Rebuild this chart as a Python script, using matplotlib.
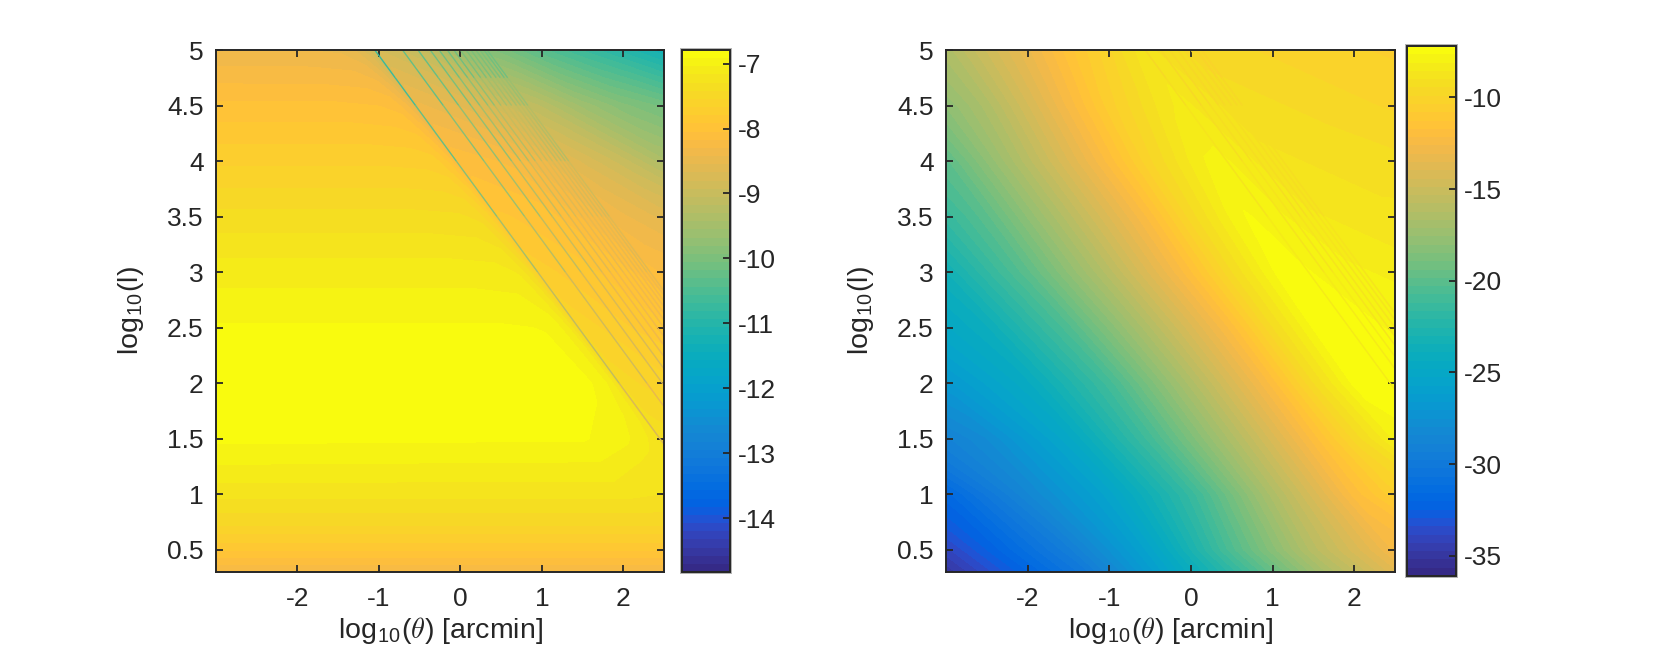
import numpy as np
import matplotlib
matplotlib.use('Agg')
import matplotlib.pyplot as plt
from matplotlib.cm import ScalarMappable
from matplotlib.collections import LineCollection
from matplotlib.colors import ListedColormap, Normalize
from matplotlib.patches import Rectangle

plt.rcParams['font.family'] = ['Liberation Sans', 'DejaVu Sans']
plt.rcParams['mathtext.fontset'] = 'cm'
plt.rcParams['mathtext.default'] = 'it'
plt.rcParams['axes.unicode_minus'] = False

W, H = 1661, 659
DARK = '#262626'

# parula, 64 steps
parula = [
    [0.2081, 0.1663, 0.5292], [0.2116, 0.1898, 0.5777], [0.2123, 0.2138, 0.6270], [0.2081, 0.2386, 0.6771],
    [0.1959, 0.2645, 0.7279], [0.1707, 0.2919, 0.7792], [0.1253, 0.3242, 0.8303], [0.0591, 0.3598, 0.8683],
    [0.0117, 0.3875, 0.8820], [0.0060, 0.4086, 0.8828], [0.0165, 0.4266, 0.8786], [0.0329, 0.4430, 0.8720],
    [0.0498, 0.4586, 0.8641], [0.0629, 0.4737, 0.8554], [0.0723, 0.4887, 0.8467], [0.0779, 0.5040, 0.8384],
    [0.0793, 0.5200, 0.8312], [0.0749, 0.5375, 0.8263], [0.0641, 0.5570, 0.8240], [0.0488, 0.5772, 0.8228],
    [0.0343, 0.5966, 0.8199], [0.0265, 0.6137, 0.8135], [0.0239, 0.6287, 0.8038], [0.0231, 0.6418, 0.7913],
    [0.0228, 0.6535, 0.7768], [0.0267, 0.6642, 0.7607], [0.0384, 0.6743, 0.7436], [0.0590, 0.6838, 0.7254],
    [0.0843, 0.6928, 0.7062], [0.1133, 0.7015, 0.6859], [0.1453, 0.7098, 0.6646], [0.1801, 0.7177, 0.6424],
    [0.2178, 0.7250, 0.6193], [0.2586, 0.7317, 0.5954], [0.3022, 0.7376, 0.5712], [0.3482, 0.7424, 0.5473],
    [0.3953, 0.7459, 0.5244], [0.4420, 0.7481, 0.5033], [0.4871, 0.7491, 0.4840], [0.5300, 0.7491, 0.4661],
    [0.5709, 0.7485, 0.4494], [0.6099, 0.7473, 0.4337], [0.6473, 0.7456, 0.4188], [0.6834, 0.7435, 0.4044],
    [0.7184, 0.7411, 0.3905], [0.7525, 0.7384, 0.3768], [0.7858, 0.7356, 0.3633], [0.8185, 0.7327, 0.3498],
    [0.8507, 0.7299, 0.3360], [0.8824, 0.7274, 0.3217], [0.9139, 0.7258, 0.3063], [0.9450, 0.7261, 0.2886],
    [0.9739, 0.7314, 0.2666], [0.9938, 0.7455, 0.2403], [0.9990, 0.7653, 0.2164], [0.9955, 0.7861, 0.1967],
    [0.9880, 0.8066, 0.1794], [0.9789, 0.8271, 0.1633], [0.9697, 0.8481, 0.1475], [0.9626, 0.8705, 0.1309],
    [0.9589, 0.8949, 0.1132], [0.9598, 0.9218, 0.0948], [0.9661, 0.9514, 0.0755], [0.9763, 0.9831, 0.0538],
]

x_ticks = [-2, -1, 0, 1, 2]
y_ticks = [0.5, 1, 1.5, 2, 2.5, 3, 3.5, 4, 4.5, 5]
y_labels = ['0.5', '1', '1.5', '2', '2.5', '3', '3.5', '4', '4.5', '5']

# maps are read along log10(l) rows and along columns of log10(l) + log10(theta)
left_rows = [0.3, 0.5, 0.75, 1, 1.25, 1.5, 2, 2.5, 3, 3.5, 4, 4.5, 5]
left_cols = [-3, 3, 3.5, 3.7, 3.85, 3.93, 4.0, 4.6, 5, 5.5, 6, 6.5, 7, 7.5]
left_map = [
    [-8.3, -8.3, -8.3, -8.3, -8.3, -8.3, -8.3, -8.3, -8.3, -8.3, -8.3, -8.3, -8.3, -8.3],
    [-7.9, -7.9, -7.9, -7.9, -7.9, -7.9, -7.9, -7.9, -7.9, -7.9, -7.9, -7.9, -7.9, -7.9],
    [-7.5, -7.5, -7.5, -7.5, -7.5, -7.5, -7.5, -7.5, -7.5, -7.5, -7.5, -7.5, -7.5, -7.5],
    [-7.25, -7.25, -7.3, -7.35, -7.4, -7.4, -7.4, -7.4, -7.4, -7.4, -7.4, -7.4, -7.4, -7.4],
    [-7.05, -7.07, -7.2, -7.25, -7.35, -7.4, -7.4, -7.4, -7.4, -7.4, -7.4, -7.4, -7.4, -7.4],
    [-6.88, -6.9, -7.0, -7.1, -7.2, -7.3, -7.35, -7.5, -7.5, -7.5, -7.5, -7.5, -7.5, -7.5],
    [-6.82, -6.82, -6.87, -6.95, -7.1, -7.35, -7.5, -7.65, -7.7, -7.7, -7.7, -7.7, -7.7, -7.7],
    [-6.9, -6.9, -6.92, -7.0, -7.2, -7.5, -7.6, -7.8, -7.9, -8.0, -8.0, -8.0, -8.0, -8.0],
    [-7.1, -7.1, -7.12, -7.18, -7.4, -7.7, -7.75, -7.9, -8.0, -8.2, -8.3, -8.3, -8.3, -8.3],
    [-7.38, -7.38, -7.4, -7.45, -7.65, -7.9, -7.9, -8.0, -8.2, -8.4, -8.6, -8.8, -8.8, -8.8],
    [-7.7, -7.7, -7.72, -7.76, -7.95, -8.15, -8.1, -8.2, -8.4, -8.7, -9.0, -9.4, -9.6, -9.6],
    [-8.0, -8.02, -8.05, -8.1, -8.3, -8.5, -8.4, -8.6, -8.9, -9.2, -9.6, -9.9, -10.1, -10.4],
    [-8.4, -8.42, -8.45, -8.55, -8.75, -9.0, -8.8, -9.1, -9.7, -10.0, -10.4, -10.7, -11.0, -11.3],
]

right_rows = [0.3, 0.5, 1, 1.5, 2, 2.5, 3, 3.5, 4, 4.5, 5]
right_cols = [-3, -2, -1, 0, 1, 2, 3, 3.5, 4, 4.2, 4.4, 5, 6, 7, 7.5]
right_map = [
    [-36.0, -33.0, -30.0, -25.5, -21.0, -16.5, -13.0, -12.0, -12.0, -12.0, -12.0, -12.0, -12.0, -12.0, -12.0],
    [-35.5, -32.5, -29.5, -25.5, -20.5, -16.0, -12.5, -12.0, -12.0, -12.0, -12.0, -12.0, -12.0, -12.0, -12.0],
    [-34.0, -31.8, -28.5, -25.5, -21.5, -16.5, -12.0, -10.5, -9.5, -9.5, -9.5, -9.5, -9.5, -9.5, -9.5],
    [-31.0, -30.0, -28.0, -25.0, -21.0, -16.5, -12.0, -9.8, -8.0, -7.8, -7.8, -7.8, -7.8, -7.8, -7.8],
    [-29.5, -28.5, -26.8, -24.5, -21.0, -16.5, -12.0, -9.5, -7.5, -7.4, -7.5, -7.5, -7.5, -7.5, -7.5],
    [-28.5, -27.5, -25.8, -24.0, -20.5, -16.3, -12.0, -9.5, -7.6, -7.3, -7.5, -7.7, -8.0, -8.0, -8.0],
    [-28.0, -27.0, -25.5, -23.5, -20.0, -16.0, -11.8, -9.5, -7.7, -7.3, -7.6, -8.0, -8.5, -8.5, -8.5],
    [-27.0, -26.0, -24.5, -23.0, -20.0, -16.0, -12.0, -9.7, -8.0, -7.6, -7.8, -8.5, -8.9, -8.9, -8.9],
    [-26.0, -25.0, -23.5, -22.0, -20.0, -16.0, -12.0, -10.0, -8.5, -8.05, -8.0, -8.9, -9.2, -9.5, -9.5],
    [-25.0, -24.0, -22.5, -21.0, -19.5, -16.5, -12.5, -10.6, -9.2, -8.7, -8.4, -9.2, -9.6, -10.0, -10.0],
    [-24.0, -23.0, -21.5, -20.0, -18.5, -16.5, -13.2, -11.5, -10.0, -9.3, -8.8, -9.6, -10.0, -10.3, -10.5],
]

# thin diagonal stripes: position in log10(l) + log10(theta), colour value on each row interval
stripe_rows = [1, 2, 3, 3.5, 4, 4.5, 4.75, 5]
left_stripe_pos = [3.95, 4.29, 4.48, 4.63, 4.74, 4.84, 4.92, 5.0, 5.07, 5.13, 5.19, 5.24, 5.29, 5.33]
left_stripe_val = [
    [-8.7, -9.1, -9.5, -9.9, -10.3, -10.6, -10.8],
    [-8.5, -8.9, -9.2, -9.6, -9.9, -10.2, -10.3],
    [-8.4, -8.8, -9.1, -9.5, -9.8, -10.1, -10.2],
    [-8.4, -8.7, -9.0, -9.3, -9.7, -10.0, -10.1],
    [-8.3, -8.5, -8.7, -9.0, -9.5, -9.9, -10.1],
    [-8.3, -8.4, -8.6, -8.9, -9.4, -9.8, -10.1],
    [-8.3, -8.4, -8.5, -8.8, -9.2, -9.7, -10.1],
    [-8.3, -8.35, -8.45, -8.65, -9.0, -9.45, -9.95],
    [-8.3, -8.35, -8.45, -8.65, -9.0, -9.45, -9.95],
    [-8.3, -8.35, -8.45, -8.7, -9.05, -9.5, -10.0],
    [-8.3, -8.35, -8.5, -8.7, -9.1, -9.5, -10.0],
    [-8.3, -8.4, -8.5, -8.75, -9.15, -9.55, -10.05],
    [-8.3, -8.4, -8.55, -8.8, -9.2, -9.6, -10.1],
    [-8.3, -8.45, -8.6, -8.85, -9.25, -9.65, -10.15],
]
right_stripe_pos = [4.44, 4.63, 4.74, 4.84, 4.92, 5.0, 5.07, 5.13]
right_stripe_val = [
    [-8.2, -8.3, -8.5, -8.7, -9.0, -9.3, -9.6],
    [-8.3, -8.5, -8.7, -9.0, -9.2, -9.5, -9.8],
    [-8.3, -8.5, -8.7, -9.0, -9.2, -9.5, -9.8],
    [-8.4, -8.6, -8.8, -9.1, -9.3, -9.6, -9.9],
    [-8.4, -8.6, -8.8, -9.1, -9.3, -9.6, -9.9],
    [-8.4, -8.6, -8.8, -9.1, -9.3, -9.6, -9.9],
    [-8.4, -8.6, -8.8, -9.1, -9.4, -9.7, -10.0],
    [-8.4, -8.6, -8.8, -9.1, -9.4, -9.7, -10.0],
]

left_clim = [-14.83, -6.79]
right_clim = [-36.1, -7.2]
left_cbar_ticks = [-14, -13, -12, -11, -10, -9, -8, -7]
right_cbar_ticks = [-35, -30, -25, -20, -15, -10]

cmap = ListedColormap(parula)


def px_axes(fig, x0, y0, x1, y1):
    # pixel box measured from the top left of the figure
    return fig.add_axes([x0 / W, 1 - y1 / H, (x1 - x0) / W, (y1 - y0) / H])


def draw_map(ax, rows, cols, values, stripe_pos, stripe_val, clim):
    norm = Normalize(clim[0], clim[1])
    uu, ll = np.meshgrid(cols, rows)
    levels = np.linspace(clim[0], clim[1], 65)
    ax.contourf(uu - ll, ll, np.array(values), levels=levels, cmap=cmap, norm=norm, extend='both')

    segs = []
    vals = []
    for pos, row_vals in zip(stripe_pos, stripe_val):
        for i in range(len(stripe_rows) - 1):
            a, b = stripe_rows[i], stripe_rows[i + 1]
            segs.append([(pos - a, a), (pos - b, b)])
            vals.append(row_vals[i])
    lc = LineCollection(segs, cmap=cmap, norm=norm, linewidths=1.0)
    lc.set_array(np.array(vals))
    ax.add_collection(lc)

    ax.set_xlim(-3, 2.5)
    ax.set_ylim(0.3, 5)
    ax.set_xticks(x_ticks)
    ax.set_xticklabels([str(t) for t in x_ticks])
    ax.set_yticks(y_ticks)
    ax.set_yticklabels(y_labels)
    ax.tick_params(axis='x', pad=11)
    ax.tick_params(axis='y', pad=9)
    ax.tick_params(direction='in', top=True, right=True, length=5, width=1.3,
                   labelsize=19, color=DARK, labelcolor=DARK)
    ax.set_xlabel(r'log$_{\mathregular{10}}$($\theta$) [arcmin]', fontsize=20.5, color=DARK, labelpad=3)
    ax.set_ylabel(r'log$_{\mathregular{10}}$(l)', fontsize=20.5, color=DARK, labelpad=15)
    for s in ax.spines.values():
        s.set_linewidth(1.4)
        s.set_color(DARK)
    return norm


def draw_cbar(fig, cax, norm, ticks):
    cb = fig.colorbar(ScalarMappable(norm=norm, cmap=cmap), cax=cax, ticks=ticks)
    cb.ax.set_yticklabels([str(t) for t in ticks])
    cb.ax.tick_params(direction='in', length=5, width=1.3, labelsize=19,
                      color=DARK, labelcolor=DARK, pad=5.5)
    cb.outline.set_linewidth(1.4)
    cb.outline.set_edgecolor(DARK)
    # faint grey edge around the bar
    box = cax.get_position()
    grow_x, grow_y = 2.0 / W, 2.0 / H
    fig.add_artist(Rectangle((box.x0 - grow_x, box.y0 - grow_y), box.width + 2 * grow_x, box.height + 2 * grow_y,
                             transform=fig.transFigure, facecolor='#b4b4b4', edgecolor='none', zorder=-1))


fig = plt.figure(figsize=(W / 100, H / 100), dpi=100)

ax1 = px_axes(fig, 216, 50, 664, 572)
norm1 = draw_map(ax1, left_rows, left_cols, left_map, left_stripe_pos, left_stripe_val, left_clim)
cax1 = px_axes(fig, 682, 50, 730, 572)
draw_cbar(fig, cax1, norm1, left_cbar_ticks)

ax2 = px_axes(fig, 946, 50, 1395, 572)
norm2 = draw_map(ax2, right_rows, right_cols, right_map, right_stripe_pos, right_stripe_val, right_clim)
cax2 = px_axes(fig, 1407, 46, 1456, 576)
draw_cbar(fig, cax2, norm2, right_cbar_ticks)

fig.savefig('out.png', dpi=100)
